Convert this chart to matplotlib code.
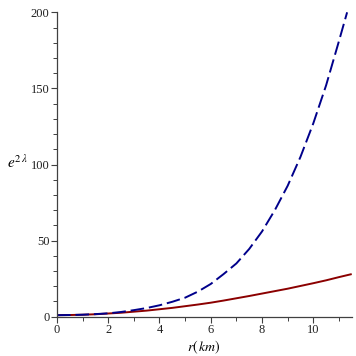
import matplotlib
matplotlib.use('Agg')
import matplotlib.pyplot as plt
from matplotlib.ticker import MultipleLocator

# values (every half unit of r)
r_blue = [0, 0.5, 1, 1.5, 2, 2.5, 3, 3.5, 4, 4.5, 5, 5.5, 6, 6.5, 7, 7.5,
          8, 8.5, 9, 9.5, 10, 10.5, 11, 11.32]
e2l_blue = [1.0, 1.1, 1.3, 1.7, 2.2, 3.1, 4.3, 5.7, 7.5, 9.8, 12.5, 16.5,
            21.5, 28.0, 35.0, 44.5, 56.0, 70.0, 86.0, 105.0, 127.0, 152.0,
            181.0, 200.0]

r_red = [0, 0.5, 1, 1.5, 2, 2.5, 3, 3.5, 4, 4.5, 5, 5.5, 6, 6.5, 7, 7.5,
         8, 8.5, 9, 9.5, 10, 10.5, 11, 11.5]
e2l_red = [1.0, 1.1, 1.3, 1.6, 2.1, 2.6, 3.3, 4.0, 4.9, 5.8, 6.9, 8.0,
           9.2, 10.6, 12.1, 13.6, 15.2, 16.8, 18.4, 20.2, 22.0, 23.9,
           26.0, 28.0]

x_ticks = [0, 2, 4, 6, 8, 10]
y_ticks = [0, 50, 100, 150, 200]

plt.rcParams['font.family'] = ['Liberation Serif', 'DejaVu Serif']
plt.rcParams['mathtext.fontset'] = 'stix'

fig = plt.figure(figsize=(3.56, 3.56), dpi=100)
ax = fig.add_axes([0.16, 0.1104, 0.828, 0.855])

ax.plot(r_red, e2l_red, color='#8b0000', lw=1.4, solid_capstyle='butt')
ax.plot(r_blue, e2l_blue, color='#00008b', lw=1.4, dashes=(7, 2.5))

ax.set_xlim(0, 11.5)
ax.set_ylim(0, 200)
ax.set_xticks(x_ticks)
ax.set_yticks(y_ticks)
ax.xaxis.set_minor_locator(MultipleLocator(1))
ax.yaxis.set_minor_locator(MultipleLocator(10))

for s in ['top', 'right']:
    ax.spines[s].set_visible(False)
for s in ['left', 'bottom']:
    ax.spines[s].set_color('#404040')
    ax.spines[s].set_linewidth(0.9)

ax.tick_params(which='major', length=4, width=0.8, color='#404040',
               labelsize=9, labelcolor='#202020', pad=1.5)
ax.tick_params(which='minor', length=3, width=0.7, color='#404040')

ax.set_xlabel(r'$r(\,km)$', fontsize=10, labelpad=2)
ax.set_ylabel(r'$e^{2\,\lambda}$', fontsize=11, rotation=0)
ax.yaxis.set_label_coords(-0.135, 0.48)

fig.savefig('out.png', dpi=100)
